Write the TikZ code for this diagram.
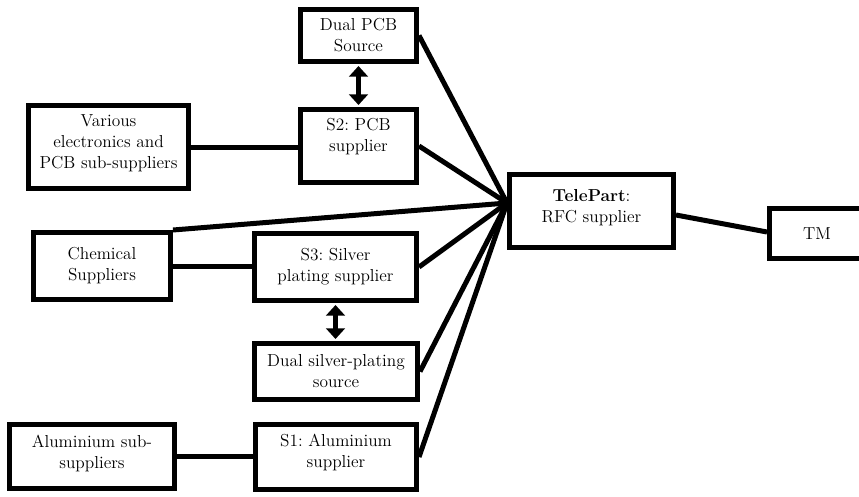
\documentclass[tikz,border=0pt]{standalone}
\usetikzlibrary{arrows.meta,calc}
\frenchspacing
\begin{document}
\begin{tikzpicture}[x=0.75pt,y=-0.75pt,
  box/.style={draw, line width=4pt, inner sep=0pt, align=center, font=\fontsize{13}{15.75}\selectfont},
  txt/.style={inner sep=0pt, align=center, font=\fontsize{13}{15.75}\selectfont},
  link/.style={line width=3.75pt},
  dbl/.style={line width=3.75pt, {Triangle[width=14pt,length=8pt]}-{Triangle[width=14pt,length=8pt]}, shorten >=1.5pt, shorten <=1.5pt}]
\useasboundingbox (0,0) rectangle (859,496);
\clip (0,0) rectangle (859,496);

\node[box, minimum width=86.75pt, minimum height=38.75pt] (dualpcb) at (358.5,35.5) {Dual PCB\\Source};
\node[box, minimum width=86.75pt, minimum height=54.5pt,
  label={[txt, yshift=6.75pt]center:S2: PCB\\supplier}] (s2) at (358.5,146) {};
\node[box, minimum width=119.75pt, minimum height=62pt,
  label={[txt, yshift=2.6pt]center:Various\\electronics and\\PCB sub-suppliers}] (various) at (108.5,147) {};
\node[box, minimum width=102.5pt, minimum height=50pt] (chem) at (102,266) {Chemical\\Suppliers};
\node[box, minimum width=121.25pt, minimum height=50pt] (s3) at (335.5,267) {S3: Silver\\plating supplier};
\node[box, minimum width=122pt, minimum height=41.75pt] (ds) at (336,371.5) {Dual silver-plating\\source};
\node[box, minimum width=123.5pt, minimum height=47.75pt,
  label={[txt, yshift=1.9pt]center:Aluminium sub-\\suppliers}] (al) at (92,456.5) {};
\node[box, minimum width=120.5pt, minimum height=48.5pt,
  label={[txt, yshift=3.4pt]center:S1: Aluminium\\supplier}] (s1) at (336,457) {};
\node[box, minimum width=122.75pt, minimum height=54.5pt,
  label={[txt, yshift=2.6pt]center:\textbf{TelePart}:\\RFC supplier}] (tp) at (591.5,211) {};
\node[box, minimum width=71pt, minimum height=37.25pt] (tm) at (817,233.5) {TM};

\coordinate (hub) at (507,203);

\draw[dbl] (dualpcb.south) -- (s2.north);
\draw[dbl] (s3.south) -- (s3.south |- ds.north);

\draw[link] (dualpcb.east) -- (hub);
\draw[link] (s2.east) -- (hub);
\draw[link] (chem.north east) -- (hub);
\draw[link] (s3.east) -- (hub);
\draw[link] (ds.east) -- (hub);
\draw[link] (s1.east) -- (hub);

\draw[link] (various.east) -- (various.east -| s2.west);
\draw[link] (chem.east) -- (chem.east -| s3.west);
\draw[link] (al.east) -- (al.east -| s1.west);
\draw[link] ($(tp.east)+(0,4)$) -- ($(tm.west)+(0,-1.5)$);
\end{tikzpicture}
\end{document}
